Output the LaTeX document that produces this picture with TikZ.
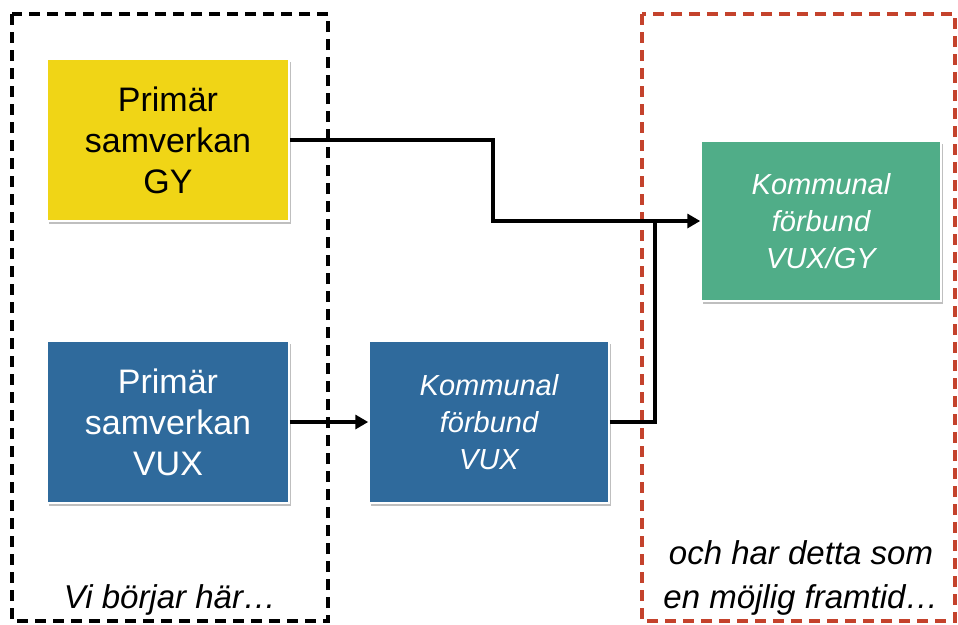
\documentclass[tikz,border=0pt]{standalone}
\usepackage{fontspec}
\setmainfont{Liberation Sans}
\usetikzlibrary{arrows.meta,shadows}
\definecolor{cyellow}{RGB}{240,213,22}
\definecolor{cblue}{RGB}{47,106,156}
\definecolor{cgreen}{RGB}{80,173,136}
\definecolor{cred}{RGB}{196,66,44}
\tikzset{
  box/.style={draw=white, line width=1.5pt, minimum width=242pt, minimum height=162pt, align=center, inner sep=0pt,
    drop shadow={shadow xshift=2pt, shadow yshift=-3pt, opacity=0.25, fill=black}},
  bigtxt/.style={font=\fontsize{34}{41}\selectfont},
  smalltxt/.style={font=\fontsize{29}{37}\selectfont\itshape},
  frame/.style={line width=3.5pt, dash pattern=on 11pt off 7pt},
  conn/.style={line width=3.5pt, line join=miter},
  arr/.style={conn, -{Triangle[length=13pt,width=14pt]}},
  caption/.style={font=\fontsize{33}{44}\selectfont\itshape, align=center, inner sep=0pt}
}
\begin{document}
\begin{tikzpicture}[x=1pt,y=-1pt]
\useasboundingbox (0,0) rectangle (958,624);
% frames
\draw[frame, black] (12,14) rectangle (328,621);
\draw[frame, cred] (642,14) rectangle (955,621);
% boxes
\node[box, bigtxt, fill=cyellow, text=black] (gy) at (168,140) {Primär\\samverkan\\GY};
\node[box, bigtxt, fill=cblue, text=white] (pv) at (168,422) {Primär\\samverkan\\VUX};
\node[box, smalltxt, fill=cblue, text=white, minimum width=240pt] (kv) at (489,422) {Kommunal\\förbund\\VUX};
\node[box, smalltxt, fill=cgreen, text=white, minimum width=240pt, minimum height=160pt] (kf) at (821,221) {Kommunal\\förbund\\VUX/GY};
% captions
\node[caption] (c1) at (170,600) {Vi börjar här…};
\node[caption] (c2) at (801,578) {och har detta som\\en möjlig framtid…};
% connectors
\coordinate (bend) at (493,140);
\coordinate (join) at (655,221);
\draw[arr] (gy.east) -- (bend) |- (kf.west);
\draw[arr] (pv.east) -- (kv.west);
\draw[conn] (kv.east) -| (join);
\end{tikzpicture}
\end{document}
